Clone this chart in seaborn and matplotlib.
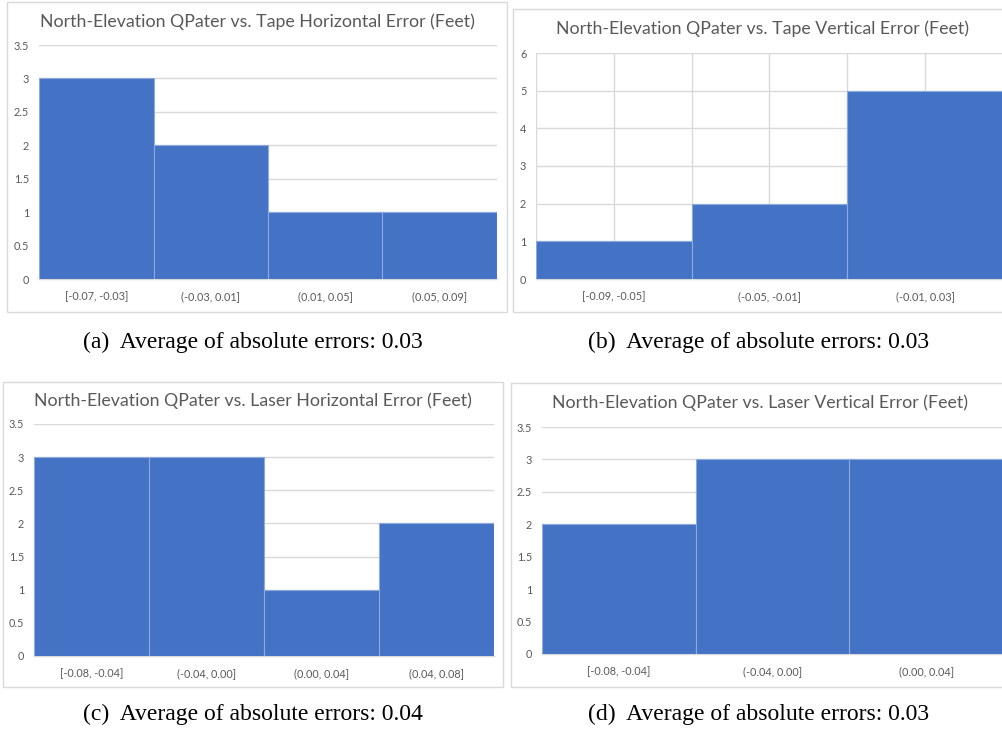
import matplotlib
matplotlib.use("Agg")
import matplotlib.pyplot as plt
import seaborn as sns
import pandas as pd
from matplotlib.patches import Rectangle

# ---- data ----
titles = [
    "North-Elevation QPater vs. Tape Horizontal Error (Feet)",
    "North-Elevation QPater vs. Tape Vertical Error (Feet)",
    "North-Elevation QPater vs. Laser Horizontal Error (Feet)",
    "North-Elevation QPater vs. Laser Vertical Error (Feet)",
]
bins_a = ["[-0.07, -0.03]", "(-0.03, 0.01]", "(0.01, 0.05]", "(0.05, 0.09]"]
counts_a = [3, 2, 1, 1]
bins_b = ["[-0.09, -0.05]", "(-0.05, -0.01]", "(-0.01, 0.03]"]
counts_b = [1, 2, 5]
bins_c = ["[-0.08, -0.04]", "(-0.04, 0.00]", "(0.00, 0.04]", "(0.04, 0.08]"]
counts_c = [3, 3, 1, 2]
bins_d = ["[-0.08, -0.04]", "(-0.04, 0.00]", "(0.00, 0.04]"]
counts_d = [2, 3, 3]
captions = [
    "(a)  Average of absolute errors: 0.03",
    "(b)  Average of absolute errors: 0.03",
    "(c)  Average of absolute errors: 0.04",
    "(d)  Average of absolute errors: 0.03",
]
ymax = [3.5, 6, 3.5, 3.5]
ystep = [0.5, 1, 0.5, 0.5]

sns.set_theme(style="white")
plt.rcParams["font.family"] = ["Lato", "DejaVu Sans"]

W, H = 1003, 731
fig = plt.figure(figsize=(W / 100, H / 100), dpi=100)

def rect(x0, y0, x1, y1):
    return [x0 / W, 1 - y1 / H, (x1 - x0) / W, (y1 - y0) / H]

# pixel geometry: (plot area), (border), title xy, caption xy
plot_px = [(39, 45, 497, 279), (536, 53, 1003, 279), (34, 424, 494, 656), (542, 427, 1003, 654)]
border_px = [(7, 2, 507, 312), (513, 9, 1010, 312), (3, 382, 503, 687), (511, 383, 1010, 687)]
title_xy = [(257, 22), (763, 29), (253, 401), (760, 403)]
cap_xy = [(253, 342), (759, 342), (253, 714), (759, 714)]

GRID = "#D9D9D9"
TXT = "#595959"
BAR = "#4472C4"

datasets = [(bins_a, counts_a), (bins_b, counts_b), (bins_c, counts_c), (bins_d, counts_d)]

for i, (bins, counts) in enumerate(datasets):
    bx0, by0, bx1, by1 = border_px[i]
    fig.patches.append(Rectangle((bx0 / W, 1 - by1 / H), (bx1 - bx0) / W, (by1 - by0) / H,
                                 transform=fig.transFigure, fill=False, edgecolor=GRID,
                                 linewidth=1.0))
    ax = fig.add_axes(rect(*plot_px[i]))
    df = pd.DataFrame({"bin": bins, "count": counts})
    sns.barplot(data=df, x="bin", y="count", order=bins, color=BAR, width=1.0,
                edgecolor="#8EA9DB", linewidth=0.8, saturation=1, ax=ax, zorder=3)
    n = len(bins)
    ax.set_xlim(-0.5, n - 0.5)
    ax.set_ylim(0, ymax[i])
    ticks = [k * ystep[i] for k in range(int(round(ymax[i] / ystep[i])) + 1)]
    ax.set_yticks(ticks)
    ax.set_yticklabels([f"{t:g}" for t in ticks])
    ax.yaxis.grid(True, color=GRID, linewidth=1.0, zorder=0)
    if i == 1:
        for xv in [k * 0.5 - 0.5 for k in range(2 * n + 1)]:
            ax.axvline(xv, color=GRID, linewidth=1.0, zorder=0)
    ax.set_axisbelow(True)
    ax.set_xlabel("")
    ax.set_ylabel("")
    for s in ["top", "right", "left"]:
        ax.spines[s].set_visible(False)
    ax.spines["bottom"].set_color(GRID)
    ax.spines["bottom"].set_linewidth(1.0)
    ax.tick_params(axis="both", length=0, labelsize=7.8, colors=TXT)
    ax.tick_params(axis="x", pad=9)
    ax.tick_params(axis="y", pad=7)
    fig.text(title_xy[i][0] / W, 1 - title_xy[i][1] / H, titles[i], ha="center", va="center",
             fontsize=12.8, color=TXT)
    fig.text(cap_xy[i][0] / W, 1 - cap_xy[i][1] / H, captions[i], ha="center", va="center",
             fontsize=17, color="#000000", family=["Liberation Serif", "DejaVu Serif"])

fig.savefig("out.png", dpi=100)
